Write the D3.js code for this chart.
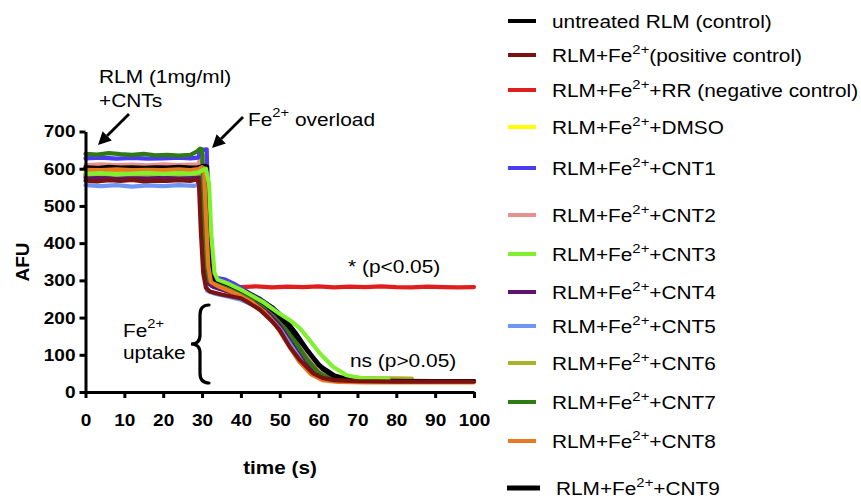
<!DOCTYPE html>
<html><head><meta charset="utf-8">
<script src="https://cdn.jsdelivr.net/npm/d3@7"></script>
<style>body{margin:0;background:#fff}svg{display:block;font-family:"Liberation Sans",Arial,sans-serif}</style>
</head><body><svg id="c" width="861" height="500"></svg>
<script>
// ---- data (time s, AFU) ----
const untreated=[[0,604],[3,602],[6,605],[9,603],[12,604],[15,602],[18,604],[21,603],[24,605],[27,603],[29,604],[30.5,608],[31.3,606],[31.7,450],[32.3,320],[33,302],[36,292],[39,280],[42,265],[45,248],[48,228],[51,200],[54,160],[57,113],[60,72],[62,59],[64,45],[67,35],[72,31],[80,30],[90,29],[100,29]];
const positive=[[0,568],[3,566],[6,569],[9,567],[12,570],[15,566],[18,568],[21,567],[24,569],[27,567],[28.7,572],[29.2,560],[29.7,430],[30.3,320],[31,280],[32,270],[35,262],[38,256],[40,252],[42,240],[45,220],[48,190],[50,166],[52.6,121],[55,88],[58.5,51],[61,38],[64,32],[70,29],[80,28],[90,28],[100,28]];
const negative=[[0,582],[4,580],[8,583],[12,581],[16,582],[20,580],[24,582],[28,581],[29.6,584],[30.2,540],[30.8,400],[31.6,300],[32.5,285],[36,283],[40,282],[44,284],[48,281],[52,283],[56,282],[60,284],[64,281],[68,283],[72,282],[76,284],[80,282],[84,281],[88,283],[92,282],[96,281],[100,282]];
const dmso=[[0,590],[4,591],[8,589],[12,591],[16,590],[20,592],[24,590],[28,591],[30,593],[30.6,570],[31.2,420],[31.8,320],[32.5,300],[36,288],[40,272],[44,252],[48,222],[51,190],[54,140],[57,90],[60,55],[63,38],[68,31],[75,30],[84,30]];
const cnt1=[[0,628],[4,630],[8,627],[12,629],[16,627],[20,628],[24,630],[27,628],[29,630],[29.6,650],[31.2,652],[31.6,450],[32.2,330],[33,308],[36,302],[38,292],[40,280],[42.3,265],[45,250],[48,228],[51,200],[54,160],[57,115],[60,75],[63,48],[66,36],[70,32],[76,31]];
const cnt2=[[0,610],[4,612],[8,610],[12,611],[16,609],[20,612],[24,610],[27,611],[29,612],[29.8,632],[30.8,635],[31.2,500],[31.8,340],[32.5,305],[36,292],[40,275],[44,255],[48,228],[51,195],[54,150],[57,100],[60,60],[63,40],[67,32],[72,30]];
const cnt3=[[0,586],[4,588],[8,585],[12,587],[16,589],[20,586],[24,588],[27,587],[29,590],[31,600],[31.8,560],[32.4,420],[33.2,320],[34,302],[37,290],[40,275],[43,258],[46,240],[50,210],[53,190],[55.2,171],[57.7,139],[60.3,104],[63.7,68],[67.2,45],[70.6,38],[74,36],[78,35]];
const cnt4=[[0,576],[4,574],[8,577],[12,575],[16,576],[20,574],[24,576],[28,575],[29.5,578],[30,500],[30.6,360],[31.3,295],[33,282],[36,272],[40,260],[44,240],[48,210],[51,175],[54,128],[57,82],[60,48],[63,35],[68,30],[75,29]];
const cnt5=[[0,556],[4,553],[8,556],[12,552],[16,555],[20,553],[24,556],[28,554],[29.3,558],[29.9,470],[30.6,330],[31.3,272],[33,265],[36,258],[40,248],[44,230],[48,200],[51,165],[54,118],[57,75],[60,45],[63,33],[68,29],[75,28]];
const cnt6=[[0,585],[4,587],[8,584],[12,586],[16,585],[20,587],[24,585],[28,586],[30,588],[30.8,560],[31.4,400],[32,310],[33,298],[36,288],[40,272],[44,250],[48,218],[51,185],[54,140],[57,95],[60,60],[63,45],[66,40],[70,38],[75,37],[80,37],[84,36]];
const cnt7=[[0,640],[3,638],[6,642],[9,639],[12,637],[15,640],[18,636],[21,637],[24,635],[27,637],[28.5,645],[29.5,654],[30,652],[30.4,500],[31,360],[31.8,300],[33,292],[36,282],[40,268],[44,248],[48,218],[51,183],[54,135],[57,88],[60,52],[63,36],[68,30],[74,29]];
const cnt8=[[0,597],[4,596],[8,598],[12,596],[16,597],[20,596],[24,598],[27,596],[29,599],[30,604],[30.5,600],[31,480],[31.6,340],[32.3,295],[34,285],[37,272],[40,258],[43,240],[46,215],[49,180],[52,130],[55,82],[58,48],[61,32],[65,27],[72,26],[80,26],[90,26],[100,26]];
const cnt9=[[0,600],[4,601],[8,599],[12,601],[16,600],[20,602],[24,600],[28,601],[30,603],[31,605],[31.5,560],[32,420],[32.7,310],[34,300],[37,288],[40,274],[43,258],[46,238],[49,212],[52,180],[55,140],[58,100],[61,62],[64,42],[67,33],[72,30],[80,29],[90,29],[100,29]];

const xTicks=[0,10,20,30,40,50,60,70,80,90,100];
const yTicks=[0,100,200,300,400,500,600,700];

const series=[
 {pre:"untreated RLM (control)",sup:"",post:"",data:untreated,color:"#000000"},
 {pre:"RLM+Fe",sup:"2+",post:"(positive control)",data:positive,color:"#7a1212"},
 {pre:"RLM+Fe",sup:"2+",post:"+RR (negative control)",data:negative,color:"#e01e1e"},
 {pre:"RLM+Fe",sup:"2+",post:"+DMSO",data:dmso,color:"#ffff00"},
 {pre:"RLM+Fe",sup:"2+",post:"+CNT1",data:cnt1,color:"#4b3cf2"},
 {pre:"RLM+Fe",sup:"2+",post:"+CNT2",data:cnt2,color:"#e89090"},
 {pre:"RLM+Fe",sup:"2+",post:"+CNT3",data:cnt3,color:"#80f030"},
 {pre:"RLM+Fe",sup:"2+",post:"+CNT4",data:cnt4,color:"#5c1470"},
 {pre:"RLM+Fe",sup:"2+",post:"+CNT5",data:cnt5,color:"#6f96f5"},
 {pre:"RLM+Fe",sup:"2+",post:"+CNT6",data:cnt6,color:"#aab22a"},
 {pre:"RLM+Fe",sup:"2+",post:"+CNT7",data:cnt7,color:"#2f7a14"},
 {pre:"RLM+Fe",sup:"2+",post:"+CNT8",data:cnt8,color:"#ea7a22"},
 {pre:"RLM+Fe",sup:"2+",post:"+CNT9",data:cnt9,color:"#000000"}
];
// legend layout (row centres)
const legendY=[21,55,90,127,168,215,254,292,326,363,402,441,488];
const drawOrder=[2,8,7,9,3,5,4,10,0,12,11,6,1];

const svg=d3.select("#c");
const x=d3.scaleLinear().domain([0,100]).range([85.5,474]);
const y=d3.scaleLinear().domain([0,700]).range([392,131.5]);

// lines
const line=d3.line().x(d=>x(d[0])).y(d=>y(d[1]));
const gl=svg.append("g");
drawOrder.forEach(i=>{
  gl.append("path").attr("d",line(series[i].data)).attr("fill","none")
   .attr("stroke",series[i].color).attr("stroke-width",4.2).attr("stroke-linejoin","round").attr("stroke-linecap","round");
});

// axes
const SX=1.12;
const xa=svg.append("g").attr("transform","translate(0,392)")
  .call(d3.axisBottom(x).tickValues(xTicks).tickFormat(d3.format("d")).tickSize(6).tickSizeOuter(0).tickPadding(16));
const ya=svg.append("g").attr("transform","translate(85.5,0)")
  .call(d3.axisLeft(y).tickValues(yTicks).tickFormat(d3.format("d")).tickSize(6).tickSizeOuter(0).tickPadding(4));
[xa,ya].forEach(a=>{
  a.selectAll("path,line").attr("stroke","#000").attr("stroke-width",3);
  a.selectAll("text").attr("font-size",17).attr("font-weight","bold").attr("fill","#000")
   .attr("font-family","'Liberation Sans',Arial,sans-serif");
});
xa.selectAll(".tick text").attr("transform",`scale(${SX},1)`);
ya.selectAll(".tick text").each(function(){
  d3.select(this).attr("transform",`scale(${SX},1)`).attr("x",-10/SX);
});

// scaled text helper
function txt(g,xp,yp,size,sx,weight){
  return g.append("text").attr("transform",`translate(${xp},${yp}) scale(${sx},1)`)
    .attr("font-size",size).attr("font-weight",weight||"normal").attr("fill","#000");
}
// axis titles
txt(svg,280,474,18,1.15,"bold").attr("text-anchor","middle").text("time (s)");
svg.append("text").attr("transform","translate(29,262) rotate(-90)").attr("text-anchor","middle")
  .attr("font-size",19).attr("font-weight","bold").text("AFU");

// legend
const lg=svg.append("g");
series.forEach((s,i)=>{
  const yy=legendY[i];
  const last=i===series.length-1;
  lg.append("line").attr("x1",last?507:508).attr("x2",last?540:536).attr("y1",yy).attr("y2",yy)
    .attr("stroke",s.color).attr("stroke-width",last?5:4);
  const t=txt(lg,last?556:552,yy+6.5,17.5,1.19);
  if(!s.sup){t.text(s.pre);}
  else{
    t.append("tspan").text(s.pre);
    t.append("tspan").attr("dy",-8).attr("font-size",12.5).text(s.sup);
    t.append("tspan").attr("dy",8).text(s.post);
  }
});

// annotations
const an=svg.append("g");
txt(an,99,83,18.5,1.13).text("RLM (1mg/ml)");
txt(an,99,107,18.5,1.13).text("+CNTs");
const fo=txt(an,248,126,18.5,1.13);
fo.append("tspan").text("Fe");
fo.append("tspan").attr("dy",-9).attr("font-size",13).text("2+");
fo.append("tspan").attr("dy",9).text(" overload");
txt(an,348,273,18.5,1.13).text("* (p<0.05)");
txt(an,350,367,18.5,1.13).text("ns (p>0.05)");
const fu=txt(an,123,337,18.5,1.13);
fu.append("tspan").text("Fe");
fu.append("tspan").attr("dy",-9).attr("font-size",13).text("2+");
txt(an,123,359,18.5,1.13).text("uptake");

function arrow(x1,y1,x2,y2){
  const ang=Math.atan2(y2-y1,x2-x1), L=13, W=6.5;
  const bx=x2-L*Math.cos(ang), by=y2-L*Math.sin(ang);
  an.append("line").attr("x1",x1).attr("y1",y1).attr("x2",bx).attr("y2",by).attr("stroke","#000").attr("stroke-width",2.8);
  const px=-Math.sin(ang)*W, py=Math.cos(ang)*W;
  an.append("path").attr("d",`M${x2},${y2}L${bx+px},${by+py}L${bx-px},${by-py}Z`).attr("fill","#000");
}
arrow(129,114,98,145);
arrow(243,117,212,148);

// brace
an.append("path").attr("d","M209,305 Q200,305 200,315 L200,335 Q200,344 191,344 Q200,344 200,353 L200,373 Q200,383 209,383")
  .attr("fill","none").attr("stroke","#000").attr("stroke-width",3.2).attr("stroke-linecap","round");
</script></body></html>
